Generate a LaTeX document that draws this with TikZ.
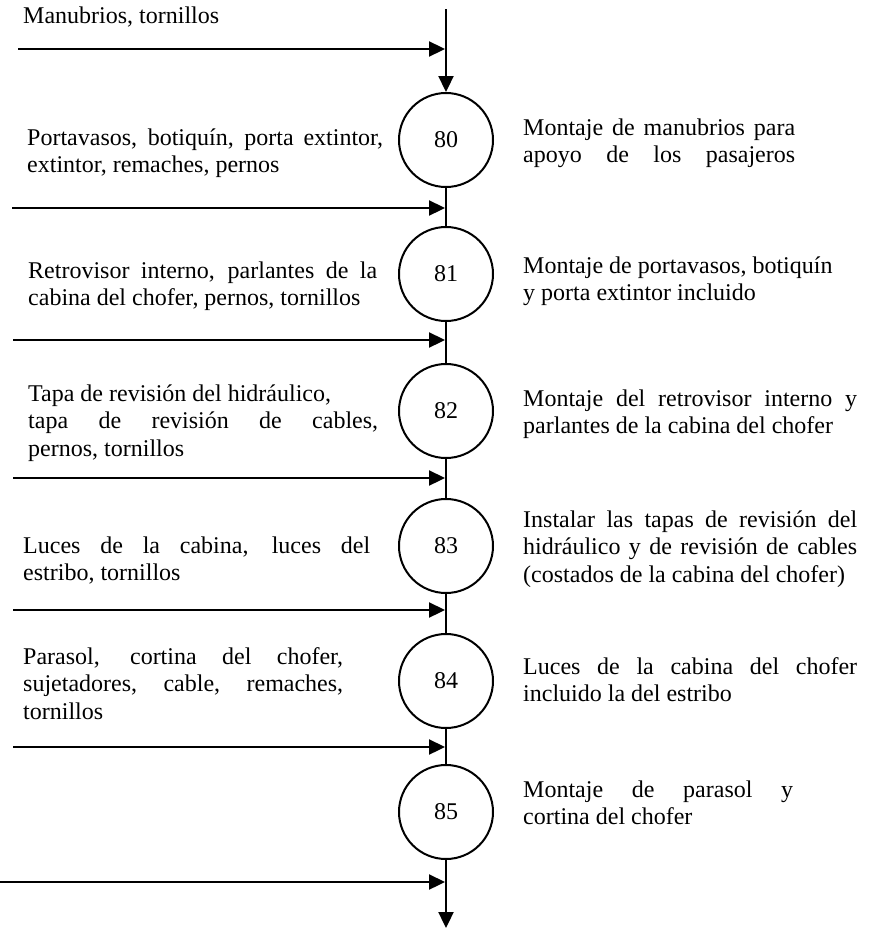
\documentclass[tikz,border=0pt]{standalone}
\usepackage{fontspec}
\setmainfont{Liberation Serif}
\usetikzlibrary{arrows.meta}
% a line stretched to a fixed width (justified)
\newcommand{\jline}[2]{\makebox[#1pt][s]{#2}}
% lines stacked, baseline = first line
\newcommand{\stack}[1]{\begin{tabular}[t]{@{}l@{}}#1\end{tabular}}
\begin{document}
\begin{tikzpicture}[x=1pt,y=-1pt,
  every node/.style={font=\fontsize{24}{27.5}\selectfont, inner sep=0pt},
  op/.style={circle, draw, line width=2pt, minimum size=94pt},
  flow/.style={line width=2.3pt},
  feed/.style={line width=2.3pt, -{Triangle[length=16pt,width=15pt]}},
  txt/.style={anchor=base west}]
\useasboundingbox (0,0) rectangle (875,929);

% operations
\node[op] (c80) at (446,140) {80};
\node[op] (c81) at (446,274) {81};
\node[op] (c82) at (446,411) {82};
\node[op] (c83) at (446,546) {83};
\node[op] (c84) at (446,681) {84};
\node[op] (c85) at (446,812) {85};

% main flow line
\coordinate (top) at (446,9);
\coordinate (end) at (446,928);
\draw[feed] (top) -- (c80);
\draw[flow] (c80) -- (c81);
\draw[flow] (c81) -- (c82);
\draw[flow] (c82) -- (c83);
\draw[flow] (c83) -- (c84);
\draw[flow] (c84) -- (c85);
\draw[feed] (c85) -- (end);

% material inputs
\foreach \i/\y/\x in {1/49/18, 2/208/12, 3/340/13, 4/478/13, 5/610/13, 6/747/13, 7/882/0} {
  \coordinate (s\i) at (\x,\y);
  \coordinate (t\i) at (445,\y);
  \draw[feed] (s\i) -- (t\i);
}

% input descriptions
\node[txt] (m0) at (23,23) {Manubrios, tornillos};
\node[txt] (m1) at (27,145) {\stack{\jline{356}{Portavasos, botiquín, porta extintor,}\\extintor, remaches, pernos}};
\node[txt] (m2) at (28,278) {\stack{\jline{349}{Retrovisor interno, parlantes de la}\\cabina del chofer, pernos, tornillos}};
\node[txt] (m3) at (28,401) {\stack{Tapa de revisión del hidráulico,\\\jline{350}{tapa de revisión de cables,}\\pernos, tornillos}};
\node[txt] (m4) at (23,553) {\stack{\jline{347}{Luces de la cabina, luces del}\\estribo, tornillos}};
\node[txt] (m5) at (23,664) {\stack{\jline{320}{Parasol, cortina del chofer,}\\\jline{320}{sujetadores, cable, remaches,}\\tornillos}};

% operation descriptions
\node[txt] (d80) at (523,135) {\stack{\jline{272}{Montaje de manubrios para}\\\jline{272}{apoyo de los pasajeros}}};
\node[txt] (d81) at (523,273) {\stack{Montaje de portavasos, botiquín\\y porta extintor incluido}};
\node[txt] (d82) at (523,406) {\stack{\jline{334}{Montaje del retrovisor interno y}\\parlantes de la cabina del chofer}};
\node[txt] (d83) at (523,527) {\stack{\jline{334}{Instalar las tapas de revisión del}\\\jline{334}{hidráulico y de revisión de cables}\\(costados de la cabina del chofer)}};
\node[txt] (d84) at (523,674) {\stack{\jline{334}{Luces de la cabina del chofer}\\incluido la del estribo}};
\node[txt] (d85) at (523,797) {\stack{\jline{270}{Montaje de parasol y}\\cortina del chofer}};
\end{tikzpicture}
\end{document}
